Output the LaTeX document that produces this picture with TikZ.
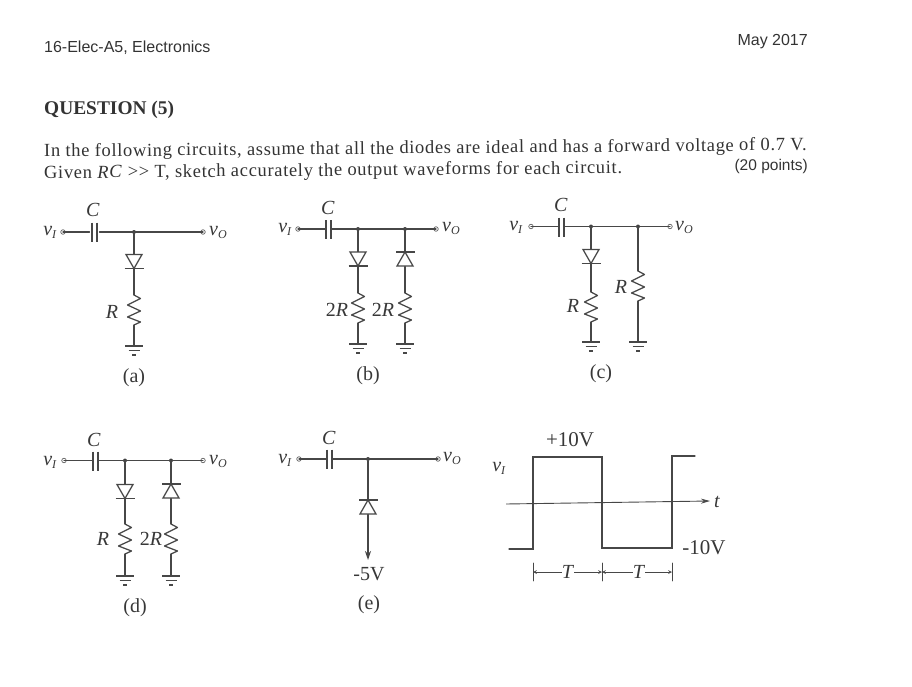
\documentclass[tikz,border=0pt]{standalone}
\usepackage{fontspec}
\usepackage{tkz-euclide}
\usetikzlibrary{arrows.meta}
\setmainfont{Liberation Serif}
\newfontfamily\headfont{Liberation Sans}
\newfontfamily\parafont[LetterSpace=3.6]{Liberation Serif}
\newcommand{\volt}[1]{\textit{v}\raisebox{-3pt}{\fontsize{12}{12}\selectfont\textit{#1}}}
\tikzset{
  wire/.style={line width=1.25pt,color=black!72},
  thinwire/.style={line width=.7pt,color=black!72},
  term/.style={circle,draw=black!62,line width=.7pt,fill=white,inner sep=0pt,minimum size=4.5pt},
  junc/.style={circle,fill=black!75,inner sep=0pt,minimum size=4pt},
  lab/.style={inner sep=0pt,text=black!78,font=\fontsize{20}{20}\selectfont},
  head/.style={inner sep=0pt,text=black!80,font=\headfont\fontsize{16}{16}\selectfont},
  para/.style={inner sep=0pt,anchor=base west,rotate=.5,text=black!80,font=\parafont\fontsize{18.5}{19}\selectfont},
  diode/.pic={
    \draw[wire,fill=white] (-8,-7) -- (8,-7) -- (0,7) -- cycle;
    \draw[wire] (-9.5,7) -- (9.5,7);
  },
  res/.pic={
    \draw[wire,line join=round] (0,0) -- (6.5,3.5) -- (-6.5,10) -- (6.5,16) -- (-6.5,22) -- (6.5,27) -- (0,30);
  },
  gnd/.pic={
    \draw[wire] (-9,0) -- (9,0);
    \draw[wire] (-5.5,4.5) -- (5.5,4.5);
    \draw[wire] (-2,9) -- (2,9);
  },
  capac/.pic={
    \draw[wire,line width=1.5pt] (-2.5,-9.5) -- (-2.5,9.5);
    \draw[wire,line width=1.5pt] (2.5,-9.5) -- (2.5,9.5);
  }
}

\begin{document}
\begin{tikzpicture}[x=1pt,y=-1pt]
  \useasboundingbox (0,0) rectangle (912,687);
  \node[head,anchor=base west] (title) at (44,53) {16-Elec-A5, Electronics};
  \node[head,anchor=base east] (date) at (808,46) {May 2017};
  \node[para,rotate=-.5,font=\bfseries\fontsize{19.4}{20}\selectfont] (quest) at (44,115) {QUESTION (5)};
  \node[para] (lineone) at (44,157) {In the following circuits, assume that all the diodes are ideal and has a forward voltage of 0.7 V.};
  \node[para] (linetwo) at (44,178.5) {Given \textit{RC} >{}> T, sketch accurately the output waveforms for each circuit.};
  \node[head,anchor=base east,font=\headfont\fontsize{15.5}{16}\selectfont] (points) at (808,171) {(20 points)};

  % circuit a
  \tkzDefPoints{89.5/232/Aa, 99.5/232/Ab, 134/295/Ar, 134/325/As, 134/346/Ag, 94.5/232/Ac, 134/261.5/Ad}
  \node[term] (ia) at (63,232) {};
  \node[term] (oa) at (203,232) {};
  \node[junc] (ja) at (134,232) {};
  \tkzDrawSegments[wire](ia,Aa Ab,ja ja,oa ja,Ar As,Ag)
  \pic at (Ac) {capac};
  \pic at (Ad) {diode};
  \pic at (Ar) {res};
  \pic at (Ag) {gnd};
  \node[lab] (Ca) at (93,210) {\textit{C}};
  \node[lab] (va) at (50,232) {\volt{I}};
  \node[lab] (wa) at (218,232) {\volt{O}};
  \node[lab] (Ra) at (112,312) {\textit{R}};
  \node[lab] (na) at (134,378) {(a)};

  % circuit b
  \tkzDefPoints{326/229/Ba, 331/229/Bb, 358/293/Br, 358/323/Bs, 358/344/Bg, 405/293/Bt, 405/323/Bu, 405/344/Bh, 328.5/229.5/Bc, 358/259/Bd, 405/259/Be}
  \node[term] (ib) at (298,229) {};
  \node[term] (ob) at (436,229) {};
  \node[junc] (jb) at (358,229) {};
  \node[junc] (kb) at (405,229) {};
  \tkzDrawSegments[wire](ib,Ba Bb,jb jb,kb kb,ob jb,Br Bs,Bg kb,Bt Bu,Bh)
  \pic at (Bc) {capac};
  \pic at (Bd) {diode};
  \pic[rotate=180] at (Be) {diode};
  \pic at (Br) {res};
  \pic at (Bt) {res};
  \pic at (Bg) {gnd};
  \pic at (Bh) {gnd};
  \node[lab] (Cb) at (328,208) {\textit{C}};
  \node[lab] (vb) at (285,229) {\volt{I}};
  \node[lab] (wb) at (451,228) {\volt{O}};
  \node[lab] (Rb) at (337,310) {2\textit{R}};
  \node[lab] (Rc) at (383,310) {2\textit{R}};
  \node[lab] (nb) at (368,376) {(b)};

  % circuit c
  \tkzDefPoints{559/226.5/Ca, 564/226.5/Cb, 591/292/Cr, 591/322/Cs, 591/342/Cg, 638/271/Ct, 638/301/Cu, 638/342/Ch, 561.5/227/Cc, 591/256.5/Cd}
  \node[term] (ic) at (531,226.5) {};
  \node[term] (oc) at (670,226.5) {};
  \node[junc] (jc) at (591,226.5) {};
  \node[junc] (kc) at (638,226.5) {};
  \tkzDrawSegments[wire](ic,Ca Cb,jc jc,kc kc,oc jc,Cr Cs,Cg kc,Ct Cu,Ch)
  \pic at (Cc) {capac};
  \pic at (Cd) {diode};
  \pic at (Cr) {res};
  \pic at (Ct) {res};
  \pic at (Cg) {gnd};
  \pic at (Ch) {gnd};
  \node[lab] (Cl) at (561,205) {\textit{C}};
  \node[lab] (vc) at (516,227) {\volt{I}};
  \node[lab] (wc) at (684,227) {\volt{O}};
  \node[lab] (Rl) at (573,306) {\textit{R}};
  \node[lab] (Rr) at (621,287) {\textit{R}};
  \node[lab] (nc) at (601,374) {(c)};

  % circuit d
  \tkzDefPoints{93/460.5/Da, 98/460.5/Db, 125/524/Dr, 125/554/Ds, 125/576/Dg, 171/524/Dt, 171/554/Du, 171/576/Dh, 95.5/461/Dc, 125/491.5/Dd, 171/491/De}
  \node[term] (id) at (64,460.5) {};
  \node[term] (od) at (203,460.5) {};
  \node[junc] (jd) at (125,460.5) {};
  \node[junc] (kd) at (171,460.5) {};
  \tkzDrawSegments[wire](id,Da Db,jd jd,kd kd,od jd,Dr Ds,Dg kd,Dt Du,Dh)
  \pic at (Dc) {capac};
  \pic at (Dd) {diode};
  \pic[rotate=180] at (De) {diode};
  \pic at (Dr) {res};
  \pic at (Dt) {res};
  \pic at (Dg) {gnd};
  \pic at (Dh) {gnd};
  \node[lab] (Cd) at (94,440) {\textit{C}};
  \node[lab] (vd) at (50,462) {\volt{I}};
  \node[lab] (wd) at (218,461) {\volt{O}};
  \node[lab] (Rd) at (103,539) {\textit{R}};
  \node[lab] (Re) at (151,539) {2\textit{R}};
  \node[lab] (nd) at (135,608) {(d)};

  % circuit e
  \tkzDefPoints{327/459/Ea, 332/459/Eb, 368/560/Eg, 329.5/459/Ec, 368/507/Ed}
  \node[term] (ie) at (299,459) {};
  \node[term] (oe) at (438,459) {};
  \node[junc] (je) at (368,459) {};
  \tkzDrawSegments[wire](ie,Ea Eb,je je,oe)
  \draw[wire,-{Stealth[length=9pt,width=6pt]}] (je) -- (Eg);
  \pic at (Ec) {capac};
  \pic[rotate=180] at (Ed) {diode};
  \node[lab] (Ce) at (329,438) {\textit{C}};
  \node[lab] (ve) at (285,460) {\volt{I}};
  \node[lab] (we) at (452,458) {\volt{O}};
  \node[lab] (mv) at (369,574) {-5V};
  \node[lab] (ne) at (369,605) {(e)};

  % input wave
  \tkzDefPoints{506/504/Xa, 710/501/Xb, 509/549/Wa, 533/549/Wb, 533/457/Wc, 602/457/Wd, 602/548/We, 672/548/Wf, 672/456/Wg, 695/456/Wh}
  \tkzDefPoints{533/563/Ta, 533/581/Tb, 602/563/Tc, 602/581/Td, 672/563/Te, 672/581/Tf, 533/572/La, 602/572/Lb, 672/572/Lc}
  \draw[wire,line width=.9pt,-{Stealth[length=9pt,width=5pt]}] (Xa) -- (Xb);
  \tkzDrawPolySeg[wire](Wa,Wb,Wc,Wd,We,Wf,Wg,Wh)
  \tkzDrawSegments[thinwire](Ta,Tb Tc,Td Te,Tf)
  \node[lab] (ti) at (717,502) {\textit{t}};
  \node[lab,font=\fontsize{21}{21}\selectfont] (pv) at (570,440) {+10V};
  \node[lab] (vw) at (499,468) {\volt{I}};
  \node[lab,font=\fontsize{21}{21}\selectfont] (nv) at (704,548) {-10V};
  \node[lab] (Tl) at (568,572) {\textit{T}};
  \node[lab] (Tr) at (639,572) {\textit{T}};
  \draw[thinwire,-stealth] (Tl) -- (La);
  \draw[thinwire,-stealth] (Tl) -- (Lb);
  \draw[thinwire,-stealth] (Tr) -- (Lb);
  \draw[thinwire,-stealth] (Tr) -- (Lc);
\end{tikzpicture}
\end{document}
